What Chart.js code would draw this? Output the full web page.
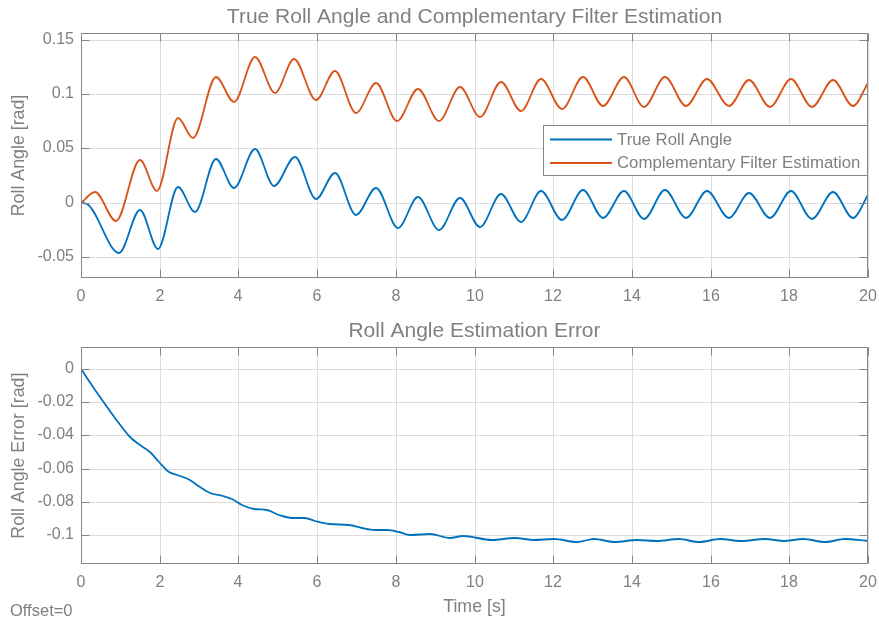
<!DOCTYPE html>
<html>
<head>
<meta charset="utf-8">
<title>Roll Angle Estimation</title>
<script src="https://cdn.jsdelivr.net/npm/chart.js@4.4.0/dist/chart.umd.min.js"></script>
<style>
  body { margin: 0; background: #fff; }
  #figure { position: relative; width: 879px; height: 622px; }
  #topPanel { position: absolute; left: 0; top: 0; width: 879px; height: 310px; }
  #bottomPanel { position: absolute; left: 0; top: 314px; width: 879px; height: 308px; }
  #offsetNote {
    position: absolute; left: 10px; top: 600px;
    font: 16.5px "Liberation Sans", Arial, Helvetica, sans-serif;
    line-height: 20px; color: #808080;
  }
</style>
</head>
<body>
<div id="figure">
  <div id="topPanel"><canvas id="angleChart" width="879" height="310"></canvas></div>
  <div id="bottomPanel"><canvas id="errorChart" width="879" height="308"></canvas></div>
  <div id="offsetNote">Offset=0</div>
</div>
<script>
// Tick positions
const timeTicks = [0, 2, 4, 6, 8, 10, 12, 14, 16, 18, 20];
const angleTicks = [-0.05, 0, 0.05, 0.1, 0.15];
const errorTicks = [-0.1, -0.08, -0.06, -0.04, -0.02, 0];

// True roll angle (turning points of the oscillation)
const trueTime = [0, 0.15, 0.956, 1.49, 1.95, 2.47, 2.9, 3.44, 3.9, 4.43, 4.91, 5.43, 5.98, 6.46, 7.0, 7.5, 8.05, 8.56, 9.09, 9.62,
  10.13, 10.67, 11.18, 11.7, 12.22, 12.76, 13.27, 13.79, 14.32, 14.85, 15.37, 15.91, 16.46, 16.98, 17.52, 18.05, 18.58, 19.1, 19.63, 20];
const trueAngle = [0, -0.0008, -0.0463, -0.0064, -0.0424, 0.0141, -0.0083, 0.0402, 0.0138, 0.0494, 0.015, 0.0424, 0.0034, 0.027, -0.0117, 0.0132, -0.0236, 0.0052, -0.0252, 0.0043,
  -0.0224, 0.008, -0.0181, 0.0104, -0.0163, 0.012, -0.0144, 0.011, -0.0154, 0.012, -0.0141, 0.0104, -0.0141, 0.0089, -0.0141, 0.0104, -0.015, 0.0101, -0.0141, 0.0074];

// Complementary filter output
const filterTime = [0, 0.36, 0.89, 1.51, 1.93, 2.47, 2.85, 3.44, 3.89, 4.43, 4.92, 5.42, 5.98, 6.46, 7.0, 7.5, 8.03, 8.56, 9.09, 9.62,
  10.13, 10.67, 11.18, 11.7, 12.22, 12.76, 13.27, 13.79, 14.32, 14.85, 15.37, 15.91, 16.46, 16.98, 17.52, 18.05, 18.58, 19.1, 19.63, 20];
const filterAngle = [0, 0.0101, -0.0166, 0.0393, 0.0111, 0.0777, 0.0596, 0.1154, 0.0927, 0.1338, 0.101, 0.1323, 0.0949, 0.1213, 0.0826, 0.1105, 0.0749, 0.105, 0.0755, 0.1062,
  0.0789, 0.1108, 0.0841, 0.1139, 0.0866, 0.116, 0.0893, 0.1154, 0.0881, 0.116, 0.0893, 0.1139, 0.0887, 0.113, 0.0881, 0.1139, 0.0881, 0.1133, 0.0887, 0.1102];

// Estimation error
const errorTime = [0, 0.49, 0.87, 1.25, 1.51, 1.76, 1.97, 2.23, 2.44, 2.73, 3.03, 3.29, 3.62, 3.84, 4.09, 4.39, 4.73, 5.02, 5.36, 5.7,
  5.95, 6.29, 6.8, 7.14, 7.48, 7.78, 8.07, 8.37, 8.88, 9.38, 9.72, 10.44, 11.04, 11.5, 12.01, 12.6, 13.03, 13.58, 14.13, 14.64,
  15.19, 15.7, 16.25, 16.76, 17.39, 17.86, 18.36, 18.91, 19.42, 20];
const errorValue = [0, -0.0168, -0.0298, -0.0408, -0.0458, -0.0498, -0.0558, -0.0618, -0.0638, -0.0664, -0.0708, -0.0744, -0.0762, -0.0784, -0.0818, -0.0842, -0.0852, -0.0878, -0.0898, -0.0898,
  -0.0914, -0.0934, -0.0938, -0.0958, -0.097, -0.0968, -0.0984, -0.0998, -0.0992, -0.1018, -0.1008, -0.1028, -0.1018, -0.1032, -0.1026, -0.104, -0.1024, -0.1044, -0.1032, -0.1038,
  -0.1026, -0.1042, -0.1026, -0.1038, -0.1026, -0.1038, -0.1026, -0.1042, -0.1026, -0.1034];

const FONT = '"Liberation Sans", Arial, Helvetica, sans-serif';
const TEXT = "#808080";
const AXIS = "#868686";
const GRID = "#dcdcdc";
const BLUE = "#0072BD";
const ORANGE = "#D95319";

Chart.defaults.font.family = FONT;
Chart.defaults.color = TEXT;

function toPoints(xs, ys) {
  return xs.map((x, i) => ({ x: x, y: ys[i] }));
}

function lineSet(label, xs, ys, color) {
  return {
    label: label,
    data: toPoints(xs, ys),
    borderColor: color,
    backgroundColor: color,
    borderWidth: 1.8,
    pointRadius: 0,
    cubicInterpolationMode: "monotone",
    fill: false,
  };
}

// Box around the plot area with inward tick marks on all four sides
const boxAxes = {
  id: "boxAxes",
  afterDatasetsDraw(chart) {
    const { ctx, chartArea: a, scales } = chart;
    const len = 8;
    const left = Math.round(a.left) + 0.5;
    const right = Math.round(a.right) - 0.5;
    const top = Math.round(a.top) + 0.5;
    const bottom = Math.round(a.bottom) - 0.5;
    ctx.save();
    ctx.strokeStyle = AXIS;
    ctx.lineWidth = 1;
    ctx.beginPath();
    ctx.rect(left, top, right - left, bottom - top);
    scales.x.ticks.forEach((t) => {
      const px = Math.round(scales.x.getPixelForValue(t.value)) + 0.5;
      ctx.moveTo(px, bottom);
      ctx.lineTo(px, bottom - len);
      ctx.moveTo(px, top);
      ctx.lineTo(px, top + len);
    });
    scales.y.ticks.forEach((t) => {
      const py = Math.round(scales.y.getPixelForValue(t.value)) + 0.5;
      ctx.moveTo(left, py);
      ctx.lineTo(left + len, py);
      ctx.moveTo(right, py);
      ctx.lineTo(right - len, py);
    });
    ctx.stroke();
    ctx.restore();
  },
};

// Legend box drawn inside the plot area, right edge on the axis
const insideLegend = {
  id: "insideLegend",
  afterDraw(chart) {
    const { ctx, chartArea: a } = chart;
    const sets = chart.data.datasets;
    ctx.save();
    ctx.font = "16.8px " + FONT;
    const textW = Math.max(...sets.map((d) => ctx.measureText(d.label).width));
    const w = 6.5 + 62 + 5 + textW + 8;
    const h = 50;
    const x0 = Math.round(a.right - w) + 0.5;
    const y0 = Math.round(a.top + 92) + 0.5;
    ctx.fillStyle = "#fff";
    ctx.fillRect(x0, y0, a.right - x0, h);
    ctx.strokeStyle = AXIS;
    ctx.lineWidth = 1;
    ctx.strokeRect(x0, y0, Math.round(a.right) - 0.5 - x0, h);
    ctx.textBaseline = "middle";
    ctx.textAlign = "left";
    sets.forEach((d, i) => {
      const cy = y0 + 14 + i * 23.4;
      ctx.strokeStyle = d.borderColor;
      ctx.lineWidth = 2;
      ctx.beginPath();
      ctx.moveTo(x0 + 6.5, cy);
      ctx.lineTo(x0 + 68.5, cy);
      ctx.stroke();
      ctx.fillStyle = TEXT;
      ctx.fillText(d.label, x0 + 73.5, cy + 0.5);
    });
    ctx.restore();
  },
};

function timeAxis(height, withTitle) {
  return {
    type: "linear",
    min: 0,
    max: 20,
    alignToPixels: true,
    afterBuildTicks: (scale) => {
      scale.ticks = timeTicks.map((v) => ({ value: v }));
    },
    afterFit: (scale) => {
      // the end labels may hang past the plot edges
      scale.height = height;
      scale.paddingLeft = 0;
      scale.paddingRight = 0;
    },
    ticks: {
      autoSkip: false,
      maxRotation: 0,
      padding: 9,
      font: { size: 16 },
      callback: (v) => String(v),
    },
    grid: { color: GRID, lineWidth: 1, drawTicks: false },
    border: { display: false },
    title: {
      display: withTitle,
      text: "Time [s]",
      font: { size: 17.8 },
      padding: { top: 0, bottom: 4.6 },
    },
  };
}

function valueAxis(min, max, tickValues, label) {
  return {
    type: "linear",
    min: min,
    max: max,
    alignToPixels: true,
    afterBuildTicks: (scale) => {
      scale.ticks = tickValues.map((v) => ({ value: v }));
    },
    afterFit: (scale) => {
      scale.width = 81;
    },
    ticks: {
      padding: 7,
      font: { size: 16 },
      callback: (v) => String(v),
    },
    grid: { color: GRID, lineWidth: 1, drawTicks: false },
    border: { display: false },
    title: {
      display: true,
      text: label,
      font: { size: 17.8 },
      padding: { top: 8.8, bottom: 0 },
    },
  };
}

function titleOpts(text) {
  return {
    display: true,
    text: text,
    fullSize: false,
    color: TEXT,
    font: { size: 21, weight: "normal" },
    padding: { top: 5, bottom: 2.8 },
  };
}

new Chart(document.getElementById("angleChart"), {
  type: "line",
  data: {
    datasets: [
      lineSet("True Roll Angle", trueTime, trueAngle, BLUE),
      lineSet("Complementary Filter Estimation", filterTime, filterAngle, ORANGE),
    ],
  },
  options: {
    responsive: false,
    animation: false,
    layout: { padding: { left: 0, right: 11, top: 0, bottom: 0 } },
    scales: {
      x: timeAxis(32, false),
      y: valueAxis(-0.0693, 0.1562, angleTicks, "Roll Angle [rad]"),
    },
    plugins: {
      title: titleOpts("True Roll Angle and Complementary Filter Estimation"),
      legend: { display: false },
      tooltip: { enabled: false },
    },
  },
  plugins: [boxAxes, insideLegend],
});

new Chart(document.getElementById("errorChart"), {
  type: "line",
  data: {
    datasets: [lineSet("Estimation Error", errorTime, errorValue, BLUE)],
  },
  options: {
    responsive: false,
    animation: false,
    layout: { padding: { left: 0, right: 11, top: 0, bottom: 0 } },
    scales: {
      x: timeAxis(57.7, true),
      y: valueAxis(-0.1176, 0.0132, errorTicks, "Roll Angle Error [rad]"),
    },
    plugins: {
      title: titleOpts("Roll Angle Estimation Error"),
      legend: { display: false },
      tooltip: { enabled: false },
    },
  },
  plugins: [boxAxes],
});
</script>
</body>
</html>
